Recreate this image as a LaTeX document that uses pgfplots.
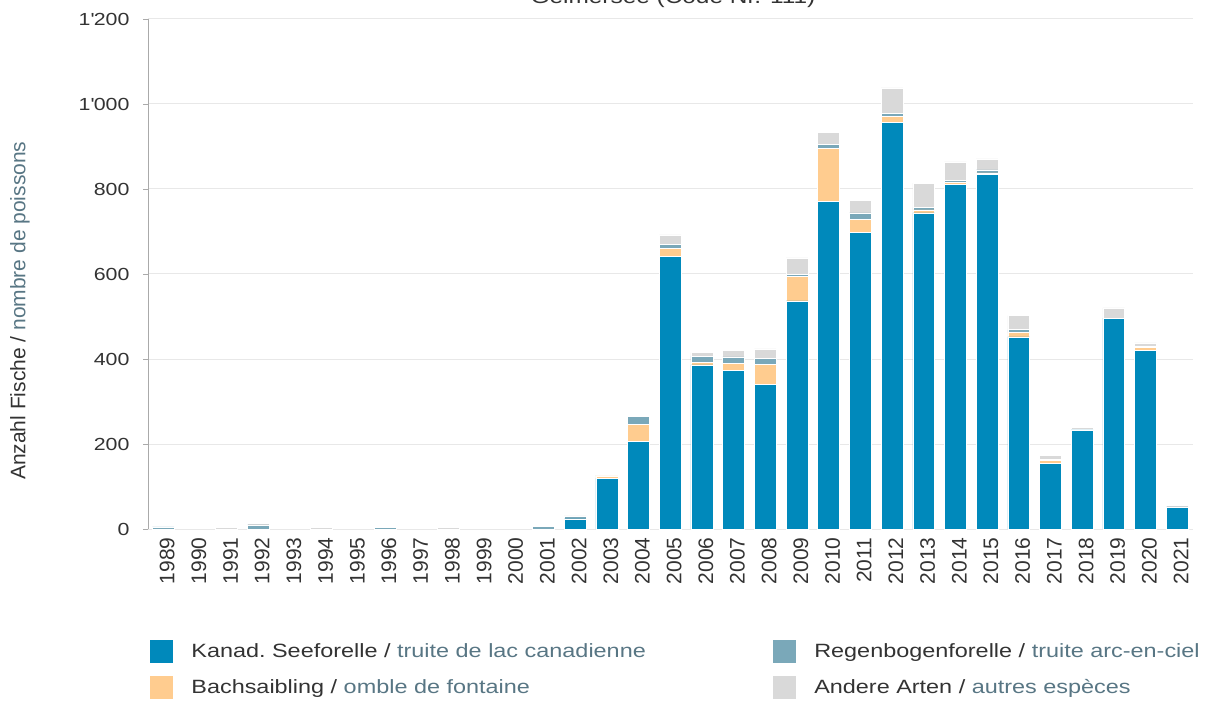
\documentclass[border=0pt]{standalone}
\usepackage{pgfplots}
\pgfplotsset{compat=1.18}
\usepackage{pgfplotstable}
\usepackage{fontspec}
\setmainfont{Liberation Sans}[FakeStretch=1.22]
\newfontfamily\rotfont{Liberation Sans}

\definecolor{cBlue}{RGB}{0,137,187}
\definecolor{cOrange}{RGB}{255,204,143}
\definecolor{cRain}{RGB}{122,168,185}
\definecolor{cGrey}{RGB}{217,217,217}
\definecolor{frcol}{RGB}{88,118,132}
\definecolor{tickcol}{RGB}{51,51,51}
\definecolor{gridcol}{RGB}{232,232,232}
\definecolor{axiscol}{RGB}{170,170,170}

\pgfplotstableread{
year blue orange rain grey
1989 0 0 5 0
1990 0 0 0 0
1991 0 0 0 3
1992 0 0 10 4
1993 0 0 0 0
1994 0 0 0 3
1995 0 0 0 0
1996 0 0 4 0
1997 0 0 0 0
1998 0 0 0 3
1999 0 0 0 0
2000 0 0 0 0
2001 0 0 6 0
2002 24 0 6 1
2003 120 5 1 0
2004 207 40 18 0
2005 642 18 9 23
2006 386 6 15 8
2007 373 17 15 16
2008 340 47 15 22
2009 537 57 5 39
2010 770 126 9 28
2011 698 31 15 30
2012 957 13 8 60
2013 744 7 5 58
2014 811 4 6 43
2015 834 4 7 26
2016 452 10 7 33
2017 155 7 1 11
2018 233 0 2 4
2019 496 0 0 24
2020 421 7 2 8
2021 51 0 1 4
}\datatable

\begin{document}
\begin{tikzpicture}
\begin{axis}[
  at={(0,0)}, anchor=south west,
  scale only axis, width=1045bp, height=510bp,
  ybar stacked, bar width=0.69,
  xmin=1988.52, xmax=2021.5,
  ymin=0, ymax=1200,
  xtick={1989,...,2021},
  ytick={0,200,...,1200},
  yticklabels={0,200,400,600,800,1\textquotesingle000,1\textquotesingle200},
  /pgf/number format/1000 sep={},
  /pgf/number format/assume math mode=true,
  axis x line*=bottom, axis y line*=left,
  x axis line style={draw=gridcol, line width=1bp},
  y axis line style={draw=axiscol, line width=0.8bp},
  xtick style={draw=none},
  ytick style={draw=axiscol, line width=0.8bp},
  tick align=outside, major tick length=5bp,
  ymajorgrids, grid style={draw=gridcol, line width=1bp},
  xticklabel style={rotate=90, anchor=east, yshift=-4bp, text=tickcol,
     font=\rotfont\fontsize{21bp}{24bp}\selectfont},
  yticklabel style={text=tickcol, xshift=-10bp, font=\fontsize{17.5bp}{20bp}\selectfont},
  every axis y label/.style={at={(rel axis cs:0,0.428)}, xshift=-128bp, rotate=90, anchor=center},
  ylabel={\rotfont\fontsize{21bp}{24bp}\selectfont\color{tickcol}Anzahl Fische / \textcolor{frcol}{nombre de poissons}},
  legend columns=2,
  legend cell align=left,
  legend style={draw=none, fill=none, at={(rel axis cs:0,0)}, anchor=north west,
     xshift=2bp, yshift=-111bp, inner sep=0pt, outer sep=0pt,
     row sep=13.5bp,
     nodes={inner sep=0pt, text=tickcol, font=\fontsize{19.2bp}{22bp}\selectfont},
     /tikz/every odd column/.append style={column sep=19bp},
     /tikz/every even column/.append style={column sep=127bp}},
]
\addplot[forget plot, fill=cBlue, draw=white, line width=0.5bp] table[x=year, y=blue] {\datatable};
\addplot[forget plot, fill=cOrange, draw=white, line width=0.5bp] table[x=year, y=orange] {\datatable};
\addplot[forget plot, fill=cRain, draw=white, line width=0.5bp] table[x=year, y=rain] {\datatable};
\addplot[forget plot, fill=cGrey, draw=white, line width=0.5bp] table[x=year, y=grey] {\datatable};

\addlegendimage{legend image code/.code={\fill[cBlue] (0bp,-11bp) rectangle (22bp,11bp);}}
\addlegendentry{Kanad.\ Seeforelle / \textcolor{frcol}{truite de lac canadienne}}
\addlegendimage{legend image code/.code={\fill[cRain] (0bp,-11bp) rectangle (22bp,11bp);}}
\addlegendentry{Regenbogenforelle / \textcolor{frcol}{truite arc-en-ciel}}
\addlegendimage{legend image code/.code={\fill[cOrange] (0bp,-11bp) rectangle (22bp,11bp);}}
\addlegendentry{Bachsaibling / \textcolor{frcol}{omble de fontaine}}
\addlegendimage{legend image code/.code={\fill[cGrey] (0bp,-11bp) rectangle (22bp,11bp);}}
\addlegendentry{Andere Arten / \textcolor{frcol}{autres esp\`eces}}
\end{axis}
\node[anchor=base, text=tickcol, font=\fontsize{20bp}{24bp}\selectfont] at (525bp,525bp) {Gelmersee (Code Nr. 111)};
\pgfresetboundingbox
\path[use as bounding box] (-148bp,-173bp) rectangle (1062bp,529bp);
\end{tikzpicture}
\end{document}
